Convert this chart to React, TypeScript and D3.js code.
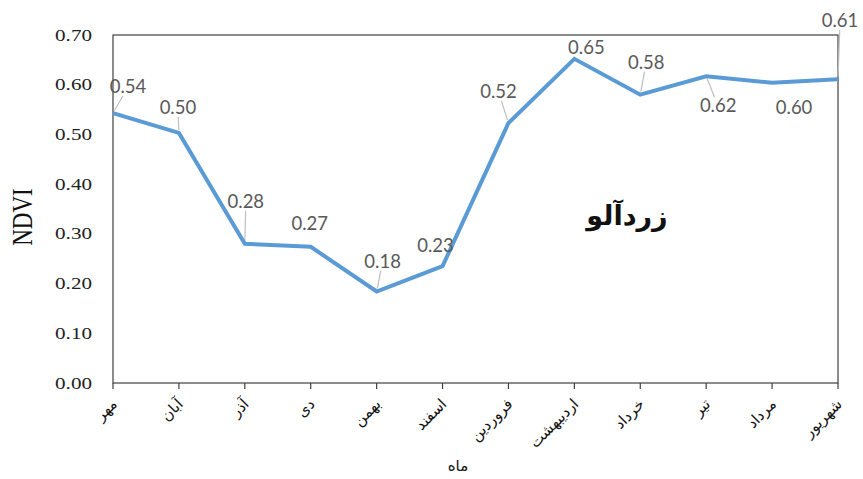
import React from "react";
import * as d3 from "d3";

const months = ["مهر", "آبان", "آذر", "دی", "بهمن", "اسفند", "فروردین", "اردیبهشت", "خرداد", "تیر", "مرداد", "شهریور"];
const ndvi = [0.543, 0.503, 0.28, 0.274, 0.184, 0.235, 0.523, 0.652, 0.58, 0.617, 0.604, 0.611];
const yTicks = [0, 0.1, 0.2, 0.3, 0.4, 0.5, 0.6, 0.7];
const title = "زردآلو";
const xTitle = "ماه";
const yTitle = "NDVI";

// label placement (offset of label center/baseline from the point) and leader flag
const labelOffsets: [number, number, boolean][] = [
  [15, -20, true],
  [-1, -19, true],
  [1, -36, true],
  [-1, -17, false],
  [6, -24, true],
  [-7, -14, false],
  [-10, -25, true],
  [12, -5, false],
  [6, -26, true],
  [12, 36, true],
  [22, 31, false],
  [2, -52, true],
];

const W = 863, H = 479;
const L = 113, R = 838, T = 35, B = 383;

export default function App() {
  const x = d3.scalePoint<string>().domain(months).range([L, R]);
  const y = d3.scaleLinear().domain([0, 0.7]).range([B, T]);
  const line = d3.line<number>().x((_, i) => x(months[i])!).y((d) => y(d));

  const leader = (px: number, py: number, cx: number, by: number) => {
    const x0 = cx - 21, x1 = cx + 21, y0 = by - 15, y1 = by + 3;
    const dx = cx - px, dy = by - 6 - py;
    let tEnd = 1;
    const cands: number[] = [];
    if (dx !== 0) { cands.push((x0 - px) / dx, (x1 - px) / dx); }
    if (dy !== 0) { cands.push((y0 - py) / dy, (y1 - py) / dy); }
    for (const t of cands) {
      if (t > 0 && t < 1) {
        const ix = px + dx * t, iy = py + dy * t;
        if (ix >= x0 - 0.01 && ix <= x1 + 0.01 && iy >= y0 - 0.01 && iy <= y1 + 0.01) tEnd = Math.min(tEnd, t);
      }
    }
    const len = Math.hypot(dx, dy);
    const t0 = 3 / len;
    return { x1: px + dx * t0, y1: py + dy * t0, x2: px + dx * tEnd, y2: py + dy * tEnd };
  };

  return (
    <svg width={W} height={H} style={{ position: "absolute", left: 0, top: 0, background: "#fff" }}>
      <rect x={0} y={0} width={W} height={H} fill="#fff" />
      <rect x={L} y={T} width={R - L} height={B - T} fill="none" stroke="#404040" strokeWidth={1.2} />
      {months.map((m) => (
        <line key={m} x1={x(m)} x2={x(m)} y1={B} y2={B + 6} stroke="#404040" strokeWidth={1.2} />
      ))}
      {yTicks.map((t) => (
        <text
          key={t}
          transform={`translate(92,${y(t) + 5.5}) scale(1.28,1)`}
          textAnchor="end"
          fontFamily="Liberation Serif"
          fontSize={16.5}
          fill="#222"
        >
          {t.toFixed(2)}
        </text>
      ))}
      <text
        transform={`translate(32,${(T + B) / 2 + 8}) rotate(-90) scale(1,1.3)`}
        textAnchor="middle"
        fontFamily="Liberation Serif"
        fontSize={23}
        fill="#111"
      >
        {yTitle}
      </text>
      {months.map((m) => (
        <text
          key={m}
          transform={`translate(${x(m)! + 5},${B + 22}) rotate(-45)`}
          textAnchor="end"
          fontFamily="DejaVu Sans"
          fontSize={15}
          fill="#111"
        >
          {m}
        </text>
      ))}
      <text x={458} y={471} textAnchor="middle" fontFamily="DejaVu Sans" fontSize={15} fill="#111">
        {xTitle}
      </text>
      {ndvi.map((v, i) => {
        const [dx, dy, has] = labelOffsets[i];
        if (!has) return null;
        const px = x(months[i])!, py = y(v);
        const l = leader(px, py, px + dx, py + dy);
        return <line key={i} {...l} stroke="#bfbfbf" strokeWidth={1.2} />;
      })}
      <path d={line(ndvi)!} fill="none" stroke="#5B9BD5" strokeWidth={4} strokeLinejoin="miter" />
      {ndvi.map((v, i) => {
        const [dx, dy] = labelOffsets[i];
        return (
          <text
            key={i}
            x={x(months[i])! + dx}
            y={y(v) + dy}
            textAnchor="middle"
            fontFamily="Lato"
            fontSize={18.5}
            fill="#595959"
          >
            {v.toFixed(2)}
          </text>
        );
      })}
      <text x={627} y={225} textAnchor="middle" fontFamily="DejaVu Sans" fontWeight="bold" fontSize={27} fill="#111">
        {title}
      </text>
    </svg>
  );
}
